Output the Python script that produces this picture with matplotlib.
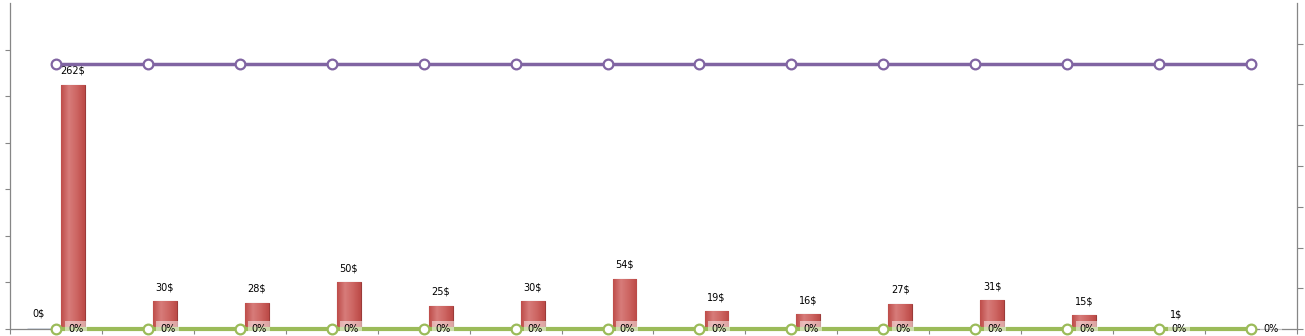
import numpy as np
import matplotlib
matplotlib.use("Agg")
import matplotlib.pyplot as plt
from matplotlib.colors import LinearSegmentedColormap

# ---- data ----
categories = list(range(1, 15))
series_zero = [0] + [np.nan] * 13            # first (hidden) column series
amounts = [262, 30, 28, 50, 25, 30, 54, 19, 16, 27, 31, 15, 1, np.nan]
target_line = [1.3] * 14                      # purple line (right axis)
pct_line = [0.0] * 14                         # green line (right axis)
pct_labels = ["0%"] * 14

plt.rcParams['font.family'] = ['DejaVu Sans']
FS = 7

W, H = 1305, 336
fig = plt.figure(figsize=(W / 100, H / 100), dpi=100)
ax = fig.add_axes([10 / W, 7 / H, (1297 - 10) / W, (329 - 3) / H])
ax2 = ax.twinx()

x = np.arange(len(categories))
gray = '#868686'
bar_off, bar_w = 0.185, 0.26

# hidden zero column series
for xi, v in zip(x, series_zero):
    if np.isnan(v):
        continue
    ax.bar(xi - 0.16, v, width=0.30, color='#4F81BD', edgecolor='#385D8A', linewidth=1.0, zorder=2)
    ax.annotate(f"{v:g}$", (xi - 0.19, v), xytext=(0, 16), textcoords='offset pixels',
                ha='center', va='center', fontsize=FS, parse_math=False, zorder=5)

# red columns with gradient
cmap = LinearSegmentedColormap.from_list('redgrad', ['#BE4D4A', '#D77C7A', '#CD6562', '#BC4A47'])
grad = np.linspace(0, 1, 64).reshape(1, -1)
for xi, v in zip(x, amounts):
    if np.isnan(v):
        continue
    x0 = xi + bar_off - bar_w / 2
    b = ax.bar(xi + bar_off, v, width=bar_w, color='#C0504D', edgecolor='#9B3B39', linewidth=0.8, zorder=2)
    im = ax.imshow(grad, extent=[x0, x0 + bar_w, 0, v], aspect='auto', cmap=cmap, zorder=2.1,
                   interpolation='bilinear')
    im.set_clip_path(b.patches[0])
    ax.annotate(f"{v:g}$", (xi + bar_off, v), xytext=(0, 14), textcoords='offset pixels',
                ha='center', va='center', fontsize=FS, parse_math=False, zorder=5,
                bbox=dict(boxstyle='square,pad=0.2', fc='white', ec='none', alpha=0.5))

ax.set_xlim(-0.5, len(categories) - 0.5)
ax.set_ylim(0, 350)
ax.set_yticks(np.arange(0, 301, 50))
ax.set_yticklabels([])
ax.set_xticks(np.arange(-0.5, len(categories), 1.0))
ax.set_xticklabels([])
ax.tick_params(axis='both', direction='out', length=3.5, color=gray, width=0.8)
for s in ['top', 'right']:
    ax.spines[s].set_visible(False)
for s in ['left', 'bottom']:
    ax.spines[s].set_color(gray)
    ax.spines[s].set_linewidth(0.9)

# lines on right axis
ax2.plot(x, target_line, color='#8064A2', linewidth=2.5, marker='o', markersize=7,
         markerfacecolor='white', markeredgecolor='#8064A2', markeredgewidth=1.6, zorder=3, clip_on=False)
ax2.plot(x, pct_line, color='#9BBB59', linewidth=3.0, marker='o', markersize=7,
         markerfacecolor='white', markeredgecolor='#9BBB59', markeredgewidth=1.6, zorder=3, clip_on=False)
for xi, v, lab in zip(x, pct_line, pct_labels):
    ax2.annotate(lab, (xi, v), xytext=(12, 0), textcoords='offset pixels',
                 ha='left', va='center', fontsize=FS, zorder=6, annotation_clip=False,
                 bbox=dict(boxstyle='square,pad=0.35', fc='white', ec='none', alpha=0.5))
ax2.set_ylim(0, 1.6)
ax2.set_yticks(np.arange(0, 1.41, 0.2))
ax2.set_yticklabels([])
ax2.tick_params(axis='y', direction='out', length=4, color=gray, width=0.8)
for s in ['top', 'left', 'bottom']:
    ax2.spines[s].set_visible(False)
ax2.spines['right'].set_color(gray)
ax2.spines['right'].set_linewidth(0.9)

fig.savefig('out.png', dpi=100)
